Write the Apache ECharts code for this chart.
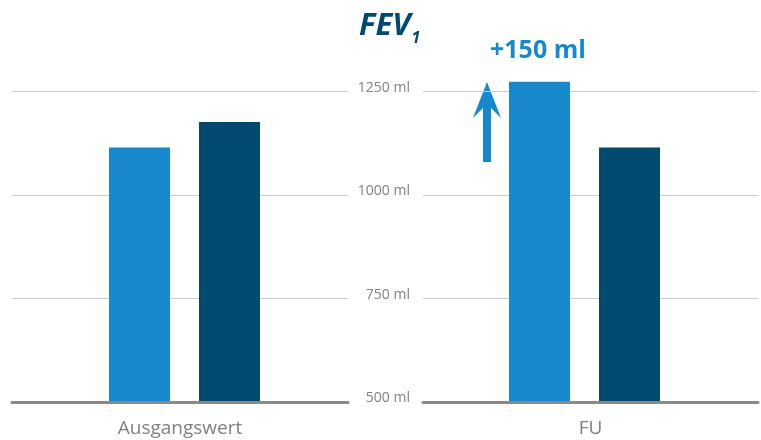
<!DOCTYPE html>
<html><head><meta charset="utf-8">
<script src="https://cdn.jsdelivr.net/npm/echarts@6/dist/echarts.min.js"></script>
<style>html,body{margin:0;padding:0;background:#fff}#c{width:761px;height:440px}</style>
</head><body><div id="c"></div>
<script>
const categories = ['Ausgangswert', 'FU'];
const seriesLight = [1115, 1274];
const seriesDark = [1177, 1115];
const yTicks = [500, 750, 1000, 1250];
const titleMain = 'FEV';
const titleSub = '1';
const annotation = '+150 ml';

const LIGHT = '#1788cb', DARK = '#004a70';
const lineGrids = [{left: 12, width: 336}, {left: 423, width: 335}];
const barGrids = [{left: 17.5, width: 334}, {left: 417.5, width: 334}];
const gTop = 40, gBottom = 38;

const grids = [], xAxes = [], yAxes = [], series = [];
lineGrids.forEach((g, i) => {
  grids.push({left: g.left, width: g.width, top: gTop, bottom: gBottom});
  xAxes.push({type: 'category', gridIndex: grids.length - 1, data: [categories[i]], z: 5,
    axisLine: {lineStyle: {color: '#8a8a8a', width: 3}}, axisTick: {show: false},
    axisLabel: {color: '#808080', fontSize: 19, fontFamily: 'Open Sans', margin: 17}});
  yAxes.push({type: 'value', gridIndex: grids.length - 1, min: yTicks[0], max: 1375, interval: 250,
    axisLine: {show: false}, axisTick: {show: false},
    splitLine: {show: true, showMinLine: false, showMaxLine: false, lineStyle: {color: '#cccccc', width: 1}},
    axisLabel: {show: i === 1, showMaxLabel: false, color: '#808080', fontSize: 14, fontFamily: 'Open Sans', margin: 13,
      verticalAlign: 'bottom', lineHeight: 8,
      formatter: v => yTicks.indexOf(v) >= 0 ? v + ' ml' : ''}});
});
barGrids.forEach((g, i) => {
  grids.push({left: g.left, width: g.width, top: gTop, bottom: gBottom});
  const gi = grids.length - 1;
  xAxes.push({type: 'category', gridIndex: gi, data: [categories[i]], show: false});
  yAxes.push({type: 'value', gridIndex: gi, min: yTicks[0], max: 1375, interval: 250, show: false, splitLine: {show: false}});
  series.push({type: 'bar', xAxisIndex: gi, yAxisIndex: gi, data: [seriesLight[i]], barWidth: 61, barGap: '47.5%',
    itemStyle: {color: LIGHT}, silent: true});
  series.push({type: 'bar', xAxisIndex: gi, yAxisIndex: gi, data: [seriesDark[i]], barWidth: 61, barGap: '47.5%',
    itemStyle: {color: DARK}, silent: true});
});

const chart = echarts.init(document.getElementById('c'), null, {renderer: 'canvas'});
chart.setOption({
  animation: false,
  title: {left: 354, top: 1, text: '{a|' + titleMain + '}{b|' + titleSub + '}',
    textStyle: {rich: {
      a: {fontFamily: 'Open Sans', fontWeight: 'bold', fontStyle: 'italic', fontSize: 31, color: DARK},
      b: {fontFamily: 'Open Sans', fontWeight: 'bold', fontStyle: 'italic', fontSize: 16, color: DARK, padding: [24, 0, 0, 1]}
    }}},
  grid: grids, xAxis: xAxes, yAxis: yAxes, series: series,
  graphic: [
    {type: 'text', left: 490, top: 38, style: {text: annotation, fill: LIGHT, font: 'bold 25px "Open Sans"'}},
    {type: 'polygon', shape: {points: [[487, 82], [501, 118], [491, 108], [491, 162], [483, 162], [483, 108], [473, 118]]},
      style: {fill: LIGHT}}
  ]
});
</script></body></html>
